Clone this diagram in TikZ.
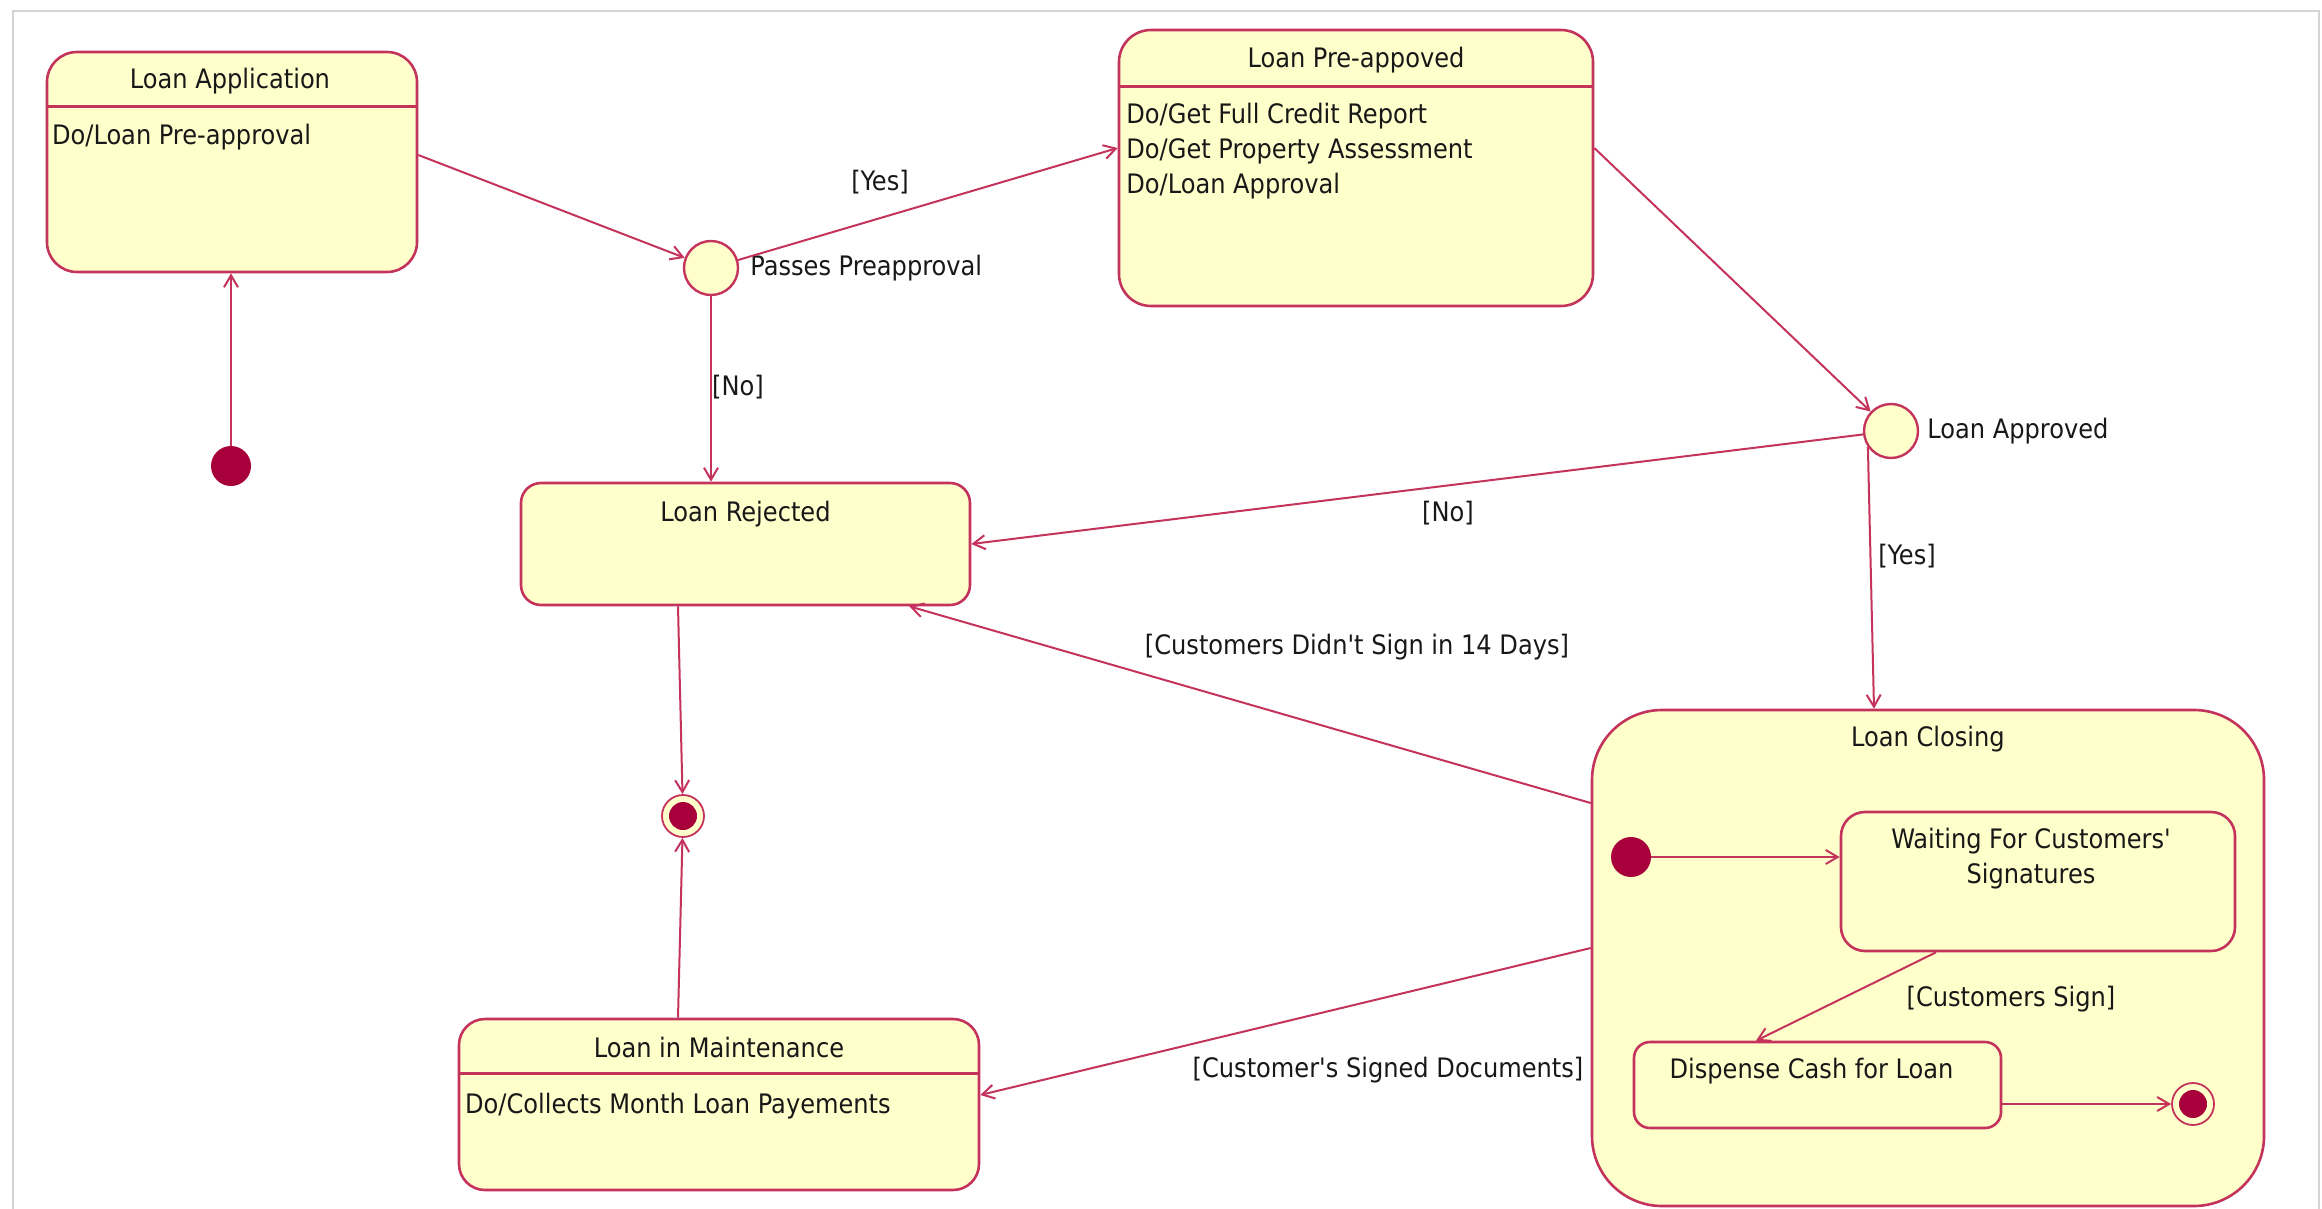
\documentclass[tikz,border=0pt]{standalone}
\usepackage{fontspec}
\setmainfont{DejaVu Sans Condensed}
\usetikzlibrary{arrows.meta}
\definecolor{statefill}{HTML}{FFFFCC}
\definecolor{stateline}{HTML}{C4335C}
\definecolor{dotred}{HTML}{A8003A}
\definecolor{inktext}{HTML}{181818}
\definecolor{framegray}{HTML}{D4D4D4}

\begin{document}
\begin{tikzpicture}[x=0.5pt,y=-0.5pt,
  every node/.style={font=\fontsize{13.4}{17.5}\selectfont, text=inktext},
  state/.style={draw=stateline, fill=statefill, line width=1.3pt,
    rounded corners=#1, inner sep=0pt},
  state/.default=14pt,
  lbl/.style={inner sep=0pt},
  trans/.style={draw=stateline, line width=1pt,
    -{Straight Barb[length=6pt,width=7pt]}},
  divider/.style={draw=stateline, line width=1.3pt},
  initial/.style={circle, fill=dotred, minimum size=20pt, inner sep=0pt},
  choice/.style={circle, draw=stateline, fill=statefill, line width=1.2pt,
    minimum size=27pt, inner sep=0pt},
  final/.style={circle, draw=stateline, fill=statefill, line width=0.9pt,
    minimum size=21pt, inner sep=0pt,
    path picture={\fill[dotred] (path picture bounding box.center) circle (7pt);}}
]
\useasboundingbox (0,0) rectangle (2322,1209);
\draw[framegray, line width=1pt] (13,1209) -- (13,11) -- (2319,11) -- (2319,1209);

% ---------- top-level states ----------
\node[state=15pt, minimum width=185pt, minimum height=110pt] (LA) at (232,162) {};
\draw[divider] ([yshift=-28pt]LA.north west) -- ([yshift=-28pt]LA.north east);
\node[lbl] (LAt) at ([xshift=-1pt,yshift=-15pt]LA.north) {Loan Application};
\node[lbl, anchor=west] (LAb) at ([xshift=3pt,yshift=-43pt]LA.north west) {Do/Loan Pre-approval};

\node[state=16pt, minimum width=237pt, minimum height=138pt] (LP) at (1356,168) {};
\draw[divider] ([yshift=-29pt]LP.north west) -- ([yshift=-29pt]LP.north east);
\node[lbl] (LPt) at ([yshift=-15.5pt]LP.north) {Loan Pre-appoved};
\node[lbl, anchor=west, align=left] (LPb) at (1126,151)
  {Do/Get Full Credit Report\\Do/Get Property Assessment\\Do/Loan Approval};

\node[state=10pt, minimum width=224.5pt, minimum height=61pt] (LR) at (745.5,544) {};
\node[lbl] (LRt) at ([yshift=-16pt]LR.north) {Loan Rejected};

\node[state=13pt, minimum width=260pt, minimum height=85.5pt] (LM) at (719,1104.5) {};
\draw[divider] ([yshift=-28pt]LM.north west) -- ([yshift=-28pt]LM.north east);
\node[lbl] (LMt) at ([yshift=-15pt]LM.north) {Loan in Maintenance};
\node[lbl, anchor=west] (LMb) at ([xshift=3.5pt,yshift=-44pt]LM.north west) {Do/Collects Month Loan Payements};

% ---------- composite state ----------
\node[state=35pt, minimum width=336pt, minimum height=248pt] (LC) at (1928,958) {};
\node[lbl] (LCt) at ([yshift=-15pt]LC.north) {Loan Closing};

\node[state=12pt, minimum width=197pt, minimum height=69.5pt] (WT) at (2038,881.5) {};
\node[lbl, align=center, anchor=north] (WTt) at ([xshift=-3.5pt,yshift=-8.5pt]WT.north)
  {Waiting For Customers\textquotesingle\\Signatures};

\node[state=8pt, minimum width=183.5pt, minimum height=43pt] (DC) at (1817.5,1085) {};
\node[lbl] (DCt) at ([xshift=-3pt,yshift=-15pt]DC.north) {Dispense Cash for Loan};

% ---------- pseudostates ----------
\node[initial] (I1) at (231,466) {};
\node[choice] (D1) at (711,268) {};
\node[lbl, anchor=west] (D1l) at (750,268) {Passes Preapproval};
\node[choice] (D2) at (1891,431) {};
\node[lbl, anchor=west] (D2l) at (1927,431) {Loan Approved};
\node[final] (F1) at (683,816) {};
\node[initial] (I2) at (1631,857) {};
\node[final] (F2) at (2193,1104) {};

% ---------- transitions ----------
\draw[trans] (I1) -- (I1 |- LA.south);
\draw[trans] ([yshift=3.5pt]LA.east) -- (D1);
\draw[trans] (D1) -- ([yshift=10pt]LP.west);
\node[lbl] (yes1) at (880,182) {[Yes]};
\draw[trans] (D1) -- (D1 |- LR.north);
\node[lbl] (no1) at (738,387) {[No]};
\draw[trans] ([yshift=10pt]LP.east) -- (D2);
\draw[trans] (D2) -- (LR.east);
\node[lbl] (no2) at (1448,513) {[No]};
\draw[trans] (D2.215) -- ([xshift=-27pt]LC.north);
\node[lbl] (yes2) at (1907,556) {[Yes]};
\draw[trans] ([yshift=77.5pt]LC.west) -- ([xshift=-31pt]LR.south east);
\node[lbl] (nosign) at (1357,647) {[Customers Didn\textquotesingle t Sign in 14 Days]};
\draw[trans] ([yshift=5pt]LC.west) -- ([yshift=4.75pt]LM.east);
\node[lbl] (signed) at (1388,1070) {[Customer\textquotesingle s Signed Documents]};
\draw[trans] ([xshift=-33.75pt]LR.south) -- (F1);
\draw[trans] ([xshift=-20.5pt]LM.north) -- (F1);
\draw[trans] (I2) -- (I2 -| WT.west);
\draw[trans] ([xshift=-51pt]WT.south) -- ([xshift=-30.75pt]DC.north);
\node[lbl] (sign) at (2011,999) {[Customers Sign]};
\draw[trans] (F2 -| DC.east) -- (F2);
\end{tikzpicture}
\end{document}
